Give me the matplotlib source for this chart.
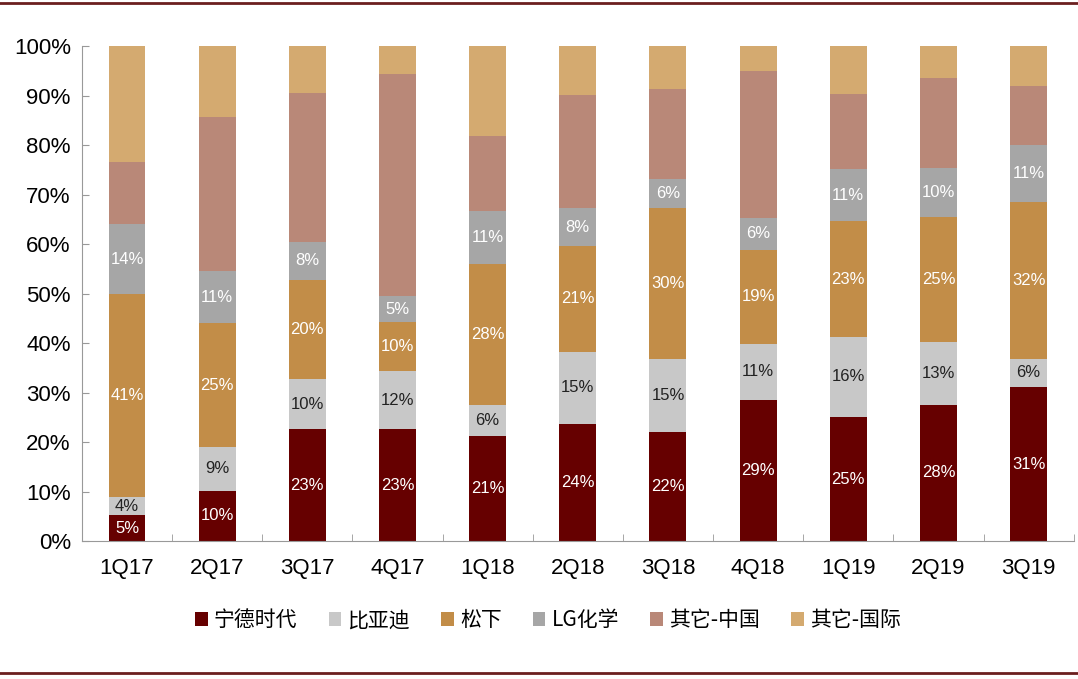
import matplotlib.pyplot as plt
import numpy as np
from matplotlib.lines import Line2D

plt.rcParams['font.family'] = ['Noto Sans CJK SC', 'DejaVu Sans']

quarters = ['1Q17', '2Q17', '3Q17', '4Q17', '1Q18', '2Q18', '3Q18', '4Q18', '1Q19', '2Q19', '3Q19']
names = ['宁德时代', '比亚迪', '松下', 'LG化学', '其它-中国', '其它-国际']

catl = [5.2, 10.2, 22.6, 22.6, 21.2, 23.7, 22.0, 28.6, 25.1, 27.6, 31.1]
byd = [3.8, 8.8, 10.1, 11.8, 6.4, 14.6, 14.9, 11.2, 16.2, 12.6, 5.8]
panasonic = [40.9, 25.0, 20.1, 9.9, 28.4, 21.3, 30.4, 19.1, 23.3, 25.3, 31.7]
lg = [14.2, 10.6, 7.7, 5.2, 10.8, 7.7, 5.8, 6.4, 10.6, 9.9, 11.4]
other_cn = [12.6, 31.0, 30.1, 44.9, 15.0, 22.8, 18.2, 29.6, 15.1, 18.2, 11.9]
other_intl = [23.3, 14.4, 9.4, 5.6, 18.2, 9.9, 8.7, 5.1, 9.7, 6.4, 8.1]

colors = ['#660000', '#c8c8c8', '#c28d48', '#a6a6a6', '#b98878', '#d4aa70']
label_colors = ['white', '#222222', 'white', 'white', None, None]

series = [catl, byd, panasonic, lg, other_cn, other_intl]
num_font = ['Liberation Sans', 'DejaVu Sans']

fig = plt.figure(figsize=(10.78, 6.79), dpi=100)
ax = fig.add_axes([0.076, 0.203, 0.920, 0.729])

x = np.arange(len(quarters))
bottom = np.zeros(len(quarters))
for vals, name, col, lcol in zip(series, names, colors, label_colors):
    vals = np.array(vals)
    bars = ax.bar(x, vals, 0.41, bottom=bottom, color=col, label=name)
    if lcol is not None:
        ax.bar_label(bars, labels=[f'{v:.0f}%' for v in vals], label_type='center',
                     color=lcol, fontsize=12, family=num_font)
    bottom += vals

ax.set_xlim(-0.5, len(quarters) - 0.5)
ax.set_ylim(0, 100)
ax.set_yticks(np.arange(0, 101, 10))
ax.set_yticklabels([f'{v}%' for v in range(0, 101, 10)], fontsize=16, family=num_font)
ax.set_xticks(x)
ax.set_xticklabels(quarters, fontsize=16, family=num_font)
ax.set_xticks(np.arange(-0.5, len(quarters), 1), minor=True)
ax.tick_params(axis='x', which='major', length=0, pad=12)
ax.tick_params(axis='x', which='minor', direction='in', length=5, color='#999999')
ax.tick_params(axis='y', direction='in', length=5, color='#999999', pad=8)

for s in ['top', 'right']:
    ax.spines[s].set_visible(False)
for s in ['left', 'bottom']:
    ax.spines[s].set_color('#999999')

ax.legend(loc='upper center', bbox_to_anchor=(0.47, -0.1), ncol=6, frameon=False,
          fontsize=15, handlelength=0.6, handleheight=0.6, handletextpad=0.3, columnspacing=1.5)

fig.add_artist(Line2D([0, 1], [0.996, 0.996], color='#6b1f1f', lw=2))
fig.add_artist(Line2D([0, 1], [0.009, 0.009], color='#6b1f1f', lw=2))

fig.savefig('out.png', dpi=100)
